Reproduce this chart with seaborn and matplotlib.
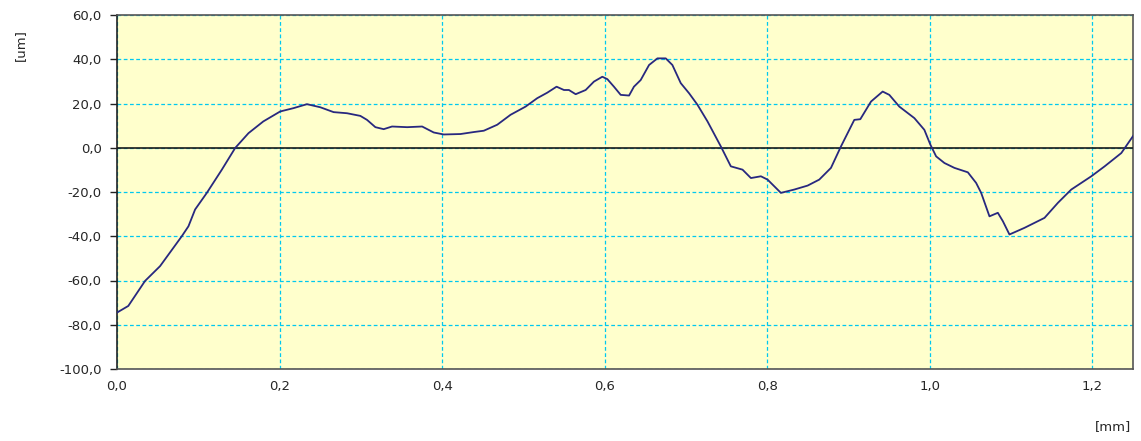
import matplotlib
matplotlib.use("Agg")
import matplotlib.pyplot as plt
import seaborn as sns
import pandas as pd
from matplotlib.ticker import FixedLocator, FixedFormatter

# profile data
x_mm = [0.0, 0.0139, 0.0345, 0.053, 0.0797, 0.0879, 0.0961, 0.1105, 0.129, 0.1454,
        0.1618, 0.180, 0.2008, 0.2172, 0.2337, 0.2501, 0.2665, 0.283, 0.2994, 0.3076,
        0.3179, 0.3281, 0.3384, 0.357, 0.3754, 0.3897, 0.402, 0.4226, 0.439, 0.4513,
        0.4678, 0.4842, 0.5027, 0.517, 0.5294, 0.5408, 0.5499, 0.556, 0.5643, 0.5766,
        0.5868, 0.5971, 0.6033, 0.6114, 0.6197, 0.630, 0.636, 0.6443, 0.6546, 0.6649,
        0.6751, 0.6833, 0.6936, 0.7039, 0.7142, 0.7265, 0.7429, 0.7552, 0.7696, 0.7799,
        0.7922, 0.8004, 0.8168, 0.8332, 0.8497, 0.864, 0.8784, 0.8907, 0.9071, 0.9145,
        0.9277, 0.942, 0.9502, 0.9625, 0.981, 0.9933, 1.0007, 1.0078, 1.018, 1.0303,
        1.0468, 1.057, 1.0632, 1.0734, 1.0837, 1.0899, 1.098, 1.1165, 1.1411, 1.1576,
        1.174, 1.1987, 1.2151, 1.2356, 1.2512]
y_um = [-74.5, -71.5, -60.2, -53.5, -40.0, -35.5, -27.9, -20.4, -9.9, -0.1,
        6.6, 11.9, 16.4, 17.9, 19.7, 18.3, 16.1, 15.6, 14.4, 12.6,
        9.3, 8.4, 9.6, 9.3, 9.6, 6.9, 6.0, 6.2, 7.1, 7.7,
        10.4, 14.9, 18.6, 22.4, 24.9, 27.6, 26.1, 26.1, 24.2, 26.1,
        29.9, 32.1, 31.0, 27.6, 23.9, 23.6, 27.6, 30.6, 37.4, 40.4,
        40.4, 37.4, 29.2, 24.6, 19.4, 11.9, 0.6, -8.4, -9.9, -13.7,
        -12.9, -14.4, -20.4, -18.9, -17.1, -14.4, -9.1, 0.6, 12.6, 12.9,
        20.9, 25.4, 23.9, 18.6, 13.4, 8.1, 1.4, -3.9, -6.9, -9.1,
        -11.1, -15.9, -20.4, -31.0, -29.4, -33.2, -39.2, -36.2, -31.7, -24.9,
        -18.9, -12.9, -8.4, -2.4, 5.9]

x_ticks = [0.0, 0.2, 0.4, 0.6, 0.8, 1.0, 1.2]
x_tick_labels = ["0,0", "0,2", "0,4", "0,6", "0,8", "1,0", "1,2"]
y_ticks = [60, 40, 20, 0, -20, -40, -60, -80, -100]
y_tick_labels = ["60,0", "40,0", "20,0", "0,0", "-20,0", "-40,0", "-60,0", "-80,0", "-100,0"]

sns.set_theme(style="white")
plt.rcParams['font.family'] = ['DejaVu Sans']

df = pd.DataFrame({"x": x_mm, "y": y_um})

fig = plt.figure(figsize=(11.41, 4.41), dpi=100)
ax = fig.add_axes([117/1141, 1 - 369/441, (1133 - 117)/1141, (369 - 15)/441])
ax.set_facecolor("#FFFFCC")

sns.lineplot(data=df, x="x", y="y", ax=ax, color="#28287F", linewidth=1.3, zorder=4)

ax.set_xlim(0, 1.25)
ax.set_ylim(-100, 60)
ax.xaxis.set_major_locator(FixedLocator(x_ticks))
ax.xaxis.set_major_formatter(FixedFormatter(x_tick_labels))
ax.yaxis.set_major_locator(FixedLocator(y_ticks))
ax.yaxis.set_major_formatter(FixedFormatter(y_tick_labels))

ax.grid(True, color="#00C8F0", linestyle=(0, (3, 2)), linewidth=0.9, zorder=1)
ax.axhline(0, color="#1A1A1A", linewidth=1.2, zorder=3)

ax.tick_params(axis="y", direction="out", length=5, width=1, color="#222222",
               labelsize=9.5, pad=6, left=True)
ax.tick_params(axis="x", length=0, labelsize=9.5, pad=8)
for s in ax.spines.values():
    s.set_color("#555555")
    s.set_linewidth(1.2)
ax.spines["left"].set_color("#222222")

ax.set_xlabel("")
ax.set_ylabel("")
fig.text(20/1141, 1 - 45/441, "[um]", rotation=90, fontsize=9.5, ha="center", va="center")
fig.text(1113/1141, 1 - 427/441, "[mm]", fontsize=9.5, ha="center", va="center")

fig.savefig("out.png", dpi=100)
